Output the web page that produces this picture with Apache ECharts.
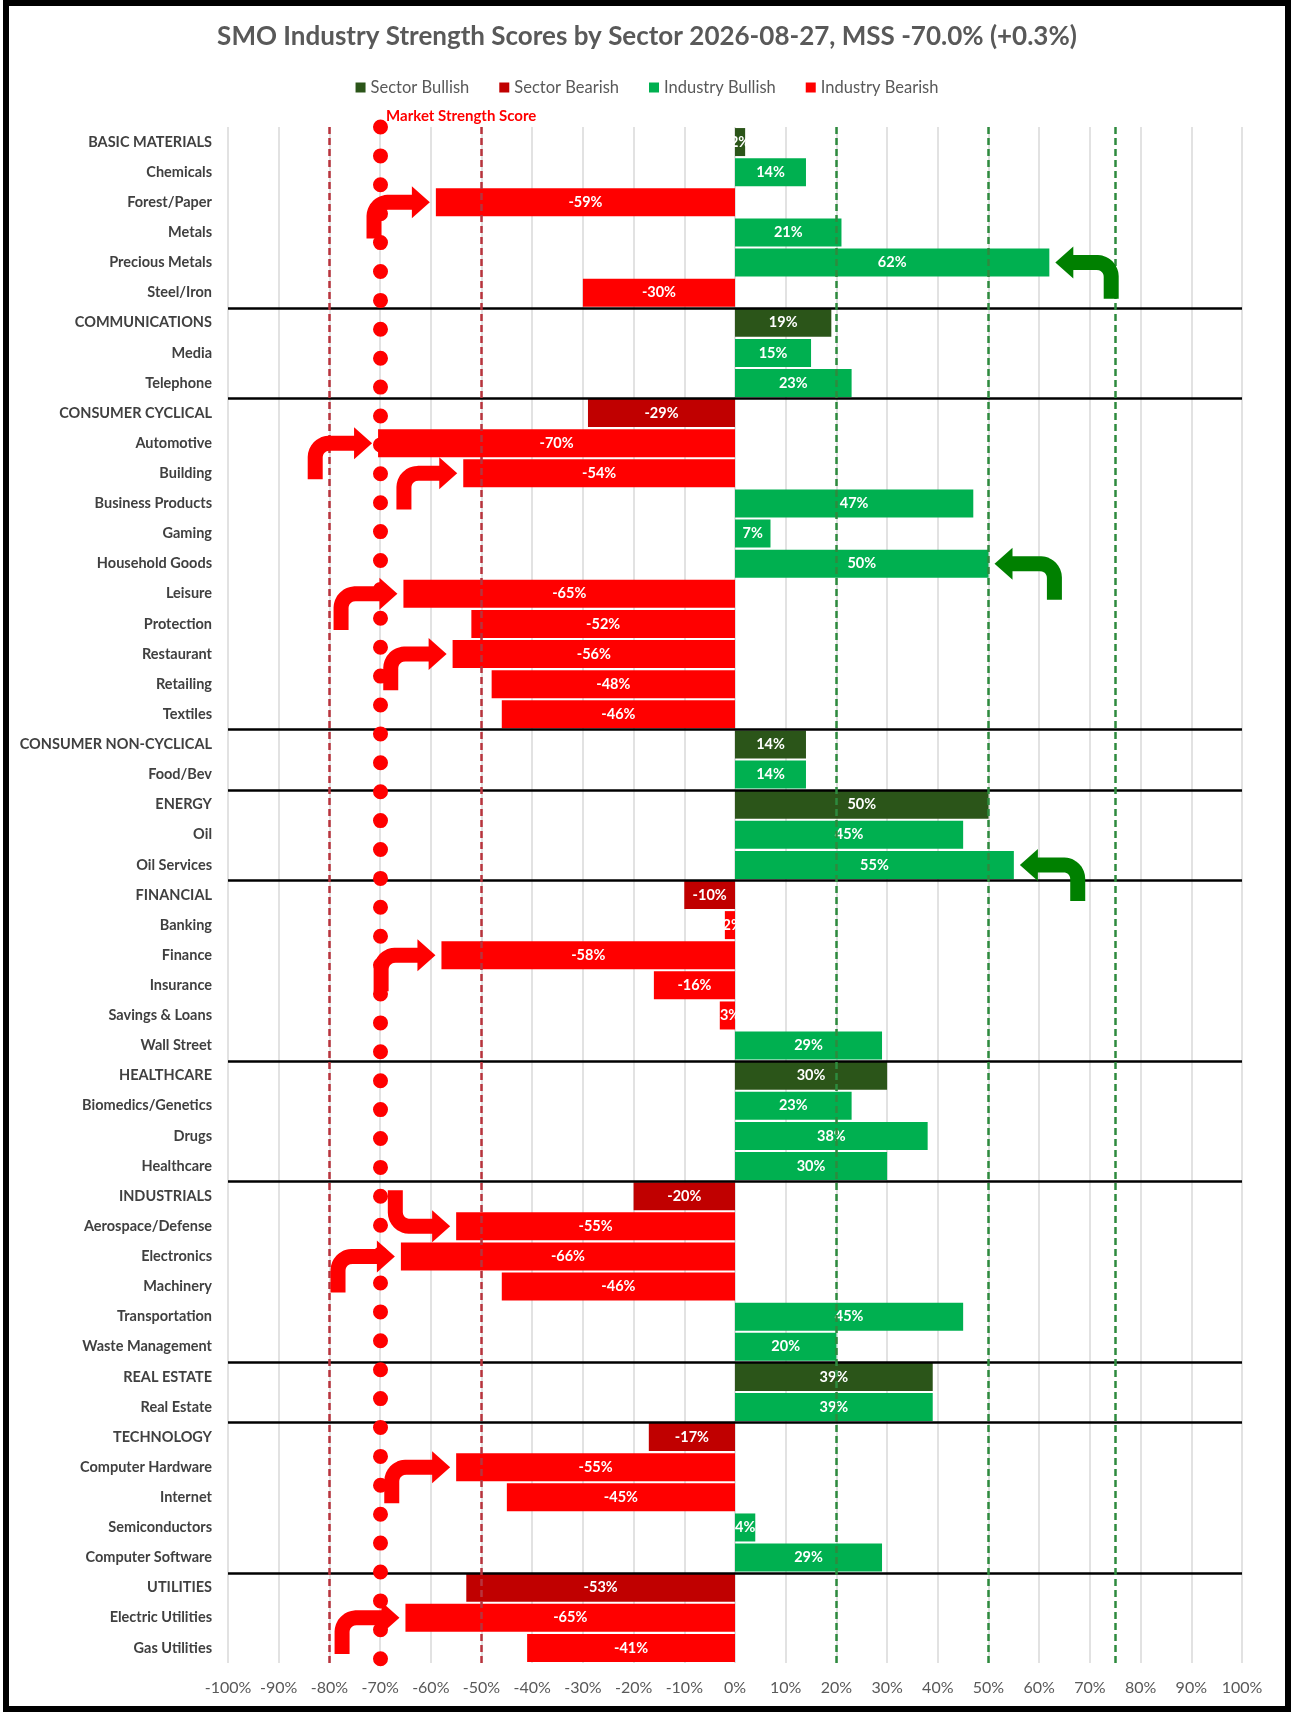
<!DOCTYPE html>
<html>
<head>
<meta charset="utf-8">
<title>SMO Industry Strength Scores by Sector</title>
<script src="https://cdn.jsdelivr.net/npm/echarts@6/dist/echarts.min.js"></script>
<style>
html, body { margin: 0; padding: 0; background: #fff; }
#main { width: 1294px; height: 1718px; }
#frame { position: absolute; left: 3px; top: 0; width: 1288px; height: 1712px; border: 6px solid #000; box-sizing: border-box; pointer-events: none; }
</style>
</head>
<body>
<div id="main"></div>
<div id="frame"></div>
<script>
// rows, top to bottom (sector rows are upper case)
var categories = ['BASIC MATERIALS', 'Chemicals', 'Forest/Paper', 'Metals', 'Precious Metals', 'Steel/Iron',
  'COMMUNICATIONS', 'Media', 'Telephone',
  'CONSUMER CYCLICAL', 'Automotive', 'Building', 'Business Products', 'Gaming', 'Household Goods', 'Leisure',
  'Protection', 'Restaurant', 'Retailing', 'Textiles',
  'CONSUMER NON-CYCLICAL', 'Food/Bev',
  'ENERGY', 'Oil', 'Oil Services',
  'FINANCIAL', 'Banking', 'Finance', 'Insurance', 'Savings & Loans', 'Wall Street',
  'HEALTHCARE', 'Biomedics/Genetics', 'Drugs', 'Healthcare',
  'INDUSTRIALS', 'Aerospace/Defense', 'Electronics', 'Machinery', 'Transportation', 'Waste Management',
  'REAL ESTATE', 'Real Estate',
  'TECHNOLOGY', 'Computer Hardware', 'Internet', 'Semiconductors', 'Computer Software',
  'UTILITIES', 'Electric Utilities', 'Gas Utilities'];

var scores = [2, 14, -59, 21, 62, -30,
  19, 15, 23,
  -29, -70.4, -53.6, 47, 7, 50, -65.4, -52, -55.7, -48, -46,
  14, 14,
  50, 45, 55,
  -10, -2, -57.9, -16, -3, 29,
  30, 23, 38, 30,
  -20, -55, -65.9, -46, 45, 20,
  39, 39,
  -17, -55, -45, 4, 29,
  -53, -65, -41];

var sectorNames = ['BASIC MATERIALS', 'COMMUNICATIONS', 'CONSUMER CYCLICAL', 'CONSUMER NON-CYCLICAL', 'ENERGY',
  'FINANCIAL', 'HEALTHCARE', 'INDUSTRIALS', 'REAL ESTATE', 'TECHNOLOGY', 'UTILITIES'];

var mss = -70;
var bearLines = [-80, -50];
var bullLines = [20, 50, 75];

// turn arrows: row, x of the stem, where the stem comes from
var arrowRows = ['Forest/Paper', 'Automotive', 'Building', 'Leisure', 'Restaurant', 'Finance',
  'Aerospace/Defense', 'Electronics', 'Computer Hardware', 'Electric Utilities',
  'Precious Metals', 'Household Goods', 'Oil Services'];
var arrowStem = [-71.2, -82.8, -65.3, -77.7, -67.9, -69.8, -67.0, -78.3, -67.7, -77.5, 74.2, 63.0, 67.6];
var arrowFrom = ['below', 'below', 'below', 'below', 'below', 'below',
  'above', 'below', 'below', 'below', 'below', 'below', 'below'];

var FONT = 'Lato';

function isSector(i) { return sectorNames.indexOf(categories[i]) >= 0; }

var sectorBull = scores.map(function (v, i) { return isSector(i) && v >= 0 ? v : '-'; });
var sectorBear = scores.map(function (v, i) { return isSector(i) && v < 0 ? v : '-'; });
var indBull = scores.map(function (v, i) { return !isSector(i) && v >= 0 ? v : '-'; });
var indBear = scores.map(function (v, i) { return !isSector(i) && v < 0 ? v : '-'; });

var arrowData = arrowRows.map(function (r, i) {
  return [arrowStem[i], r, scores[categories.indexOf(r)], arrowFrom[i] === 'below' ? 1 : -1];
});

var barLabel = {
  show: true,
  position: 'inside',
  color: '#fff',
  fontFamily: FONT,
  fontWeight: 'bold',
  fontSize: 14.5,
  formatter: function (p) { return Math.round(p.value) + '%'; }
};

function refLine(x, color) {
  return { xAxis: x, lineStyle: { color: color, width: 2.5, type: [7, 4] } };
}

var markData = [];
bearLines.forEach(function (x) { markData.push(refLine(x, '#B8333C')); });
bullLines.forEach(function (x) { markData.push(refLine(x, '#2E8A3E')); });
markData.push({
  xAxis: mss,
  lineStyle: { color: '#FF0000', width: 15, type: [0, 28.9], cap: 'round' },
  label: {
    show: true, position: 'start', distance: 3, align: 'left', padding: [0, 0, 0, 6],
    formatter: 'Market Strength Score', color: '#FF0000', fontFamily: FONT, fontWeight: 'bold', fontSize: 15
  }
});

function renderArrow(params, api) {
  var row = api.value(1);
  var stemPt = api.coord([api.value(0), row]);
  var tipPt = api.coord([api.value(2), row]);
  var rowH = api.size([0, 1])[1];
  var v = api.value(3);
  var sx = stemPt[0], cy = stemPt[1];
  var d = tipPt[0] > sx ? 1 : -1;
  var tx = tipPt[0] - d * 6;
  var ey = cy + v * (rowH + 6);
  var R = 14, head = 17, hh = 16;
  var color = api.value(2) < 0 ? '#FF0000' : '#008000';
  var pts = [[sx, ey]];
  for (var k = 0; k <= 8; k++) {
    var a = Math.PI / 2 * k / 8;
    pts.push([sx + d * R * (1 - Math.cos(a)), cy + v * R * (1 - Math.sin(a))]);
  }
  pts.push([tx - d * head, cy]);
  return {
    type: 'group',
    children: [
      { type: 'polyline', shape: { points: pts }, style: { stroke: color, lineWidth: 15, fill: 'none', lineJoin: 'round' } },
      { type: 'polygon', shape: { points: [[tx - d * (head + 1), cy - hh], [tx, cy], [tx - d * (head + 1), cy + hh]] }, style: { fill: color } }
    ]
  };
}

// black line above each sector row
function renderSeparator(params, api) {
  var p = api.coord([0, api.value(0)]);
  var rowH = api.size([0, 1])[1];
  var cs = params.coordSys;
  var y = Math.round(p[1] - rowH / 2) + 0.5;
  return {
    type: 'line',
    shape: { x1: cs.x, y1: y, x2: cs.x + cs.width, y2: y },
    style: { stroke: '#000', lineWidth: 2.5 }
  };
}

var chart = echarts.init(document.getElementById('main'));
chart.setOption({
  animation: false,
  backgroundColor: '#fff',
  textStyle: { fontFamily: FONT },
  title: {
    text: 'SMO Industry Strength Scores by Sector 2026-08-27, MSS -70.0% (+0.3%)',
    left: 'center',
    top: 19,
    textStyle: { fontFamily: FONT, fontSize: 26, fontWeight: 'bold', color: '#595959' }
  },
  legend: {
    data: ['Sector Bullish', 'Sector Bearish', 'Industry Bullish', 'Industry Bearish'],
    top: 74,
    left: 'center',
    icon: 'rect',
    itemWidth: 10,
    itemHeight: 10,
    itemGap: 30,
    textStyle: { fontFamily: FONT, fontSize: 16.5, color: '#595959' }
  },
  grid: { left: 228, right: 52, top: 127, bottom: 55 },
  xAxis: {
    type: 'value',
    min: -100,
    max: 100,
    interval: 10,
    axisLine: { show: false },
    axisTick: { show: false },
    axisLabel: { formatter: '{value}%', color: '#595959', fontFamily: FONT, fontSize: 16, margin: 17 },
    splitLine: { show: true, lineStyle: { color: '#D9D9D9', width: 1.5 } }
  },
  yAxis: {
    type: 'category',
    data: categories,
    inverse: true,
    axisLine: { show: false },
    axisTick: { show: false },
    splitLine: { show: false },
    axisLabel: { interval: 0, color: '#404040', fontFamily: FONT, fontWeight: 'bold', fontSize: 14.5, margin: 16 }
  },
  series: [
    {
      name: 'Sector Bullish', type: 'bar', stack: 'all', data: sectorBull, barCategoryGap: '7%',
      itemStyle: { color: '#2B5519' }, label: barLabel,
      markLine: { symbol: 'none', silent: true, label: { show: false }, data: markData }
    },
    { name: 'Sector Bearish', type: 'bar', stack: 'all', data: sectorBear, itemStyle: { color: '#C00000' }, label: barLabel },
    { name: 'Industry Bullish', type: 'bar', stack: 'all', data: indBull, itemStyle: { color: '#00B050' }, label: barLabel },
    { name: 'Industry Bearish', type: 'bar', stack: 'all', data: indBear, itemStyle: { color: '#FF0000' }, label: barLabel },
    {
      name: 'separators', type: 'custom', renderItem: renderSeparator, silent: true, z: 3,
      encode: { y: 0 }, data: sectorNames.slice(1).map(function (s) { return [s]; })
    },
    {
      name: 'arrows', type: 'custom', renderItem: renderArrow, silent: true, z: 6, clip: false,
      encode: { x: 0, y: 1 }, data: arrowData
    }
  ]
});
</script>
</body>
</html>
